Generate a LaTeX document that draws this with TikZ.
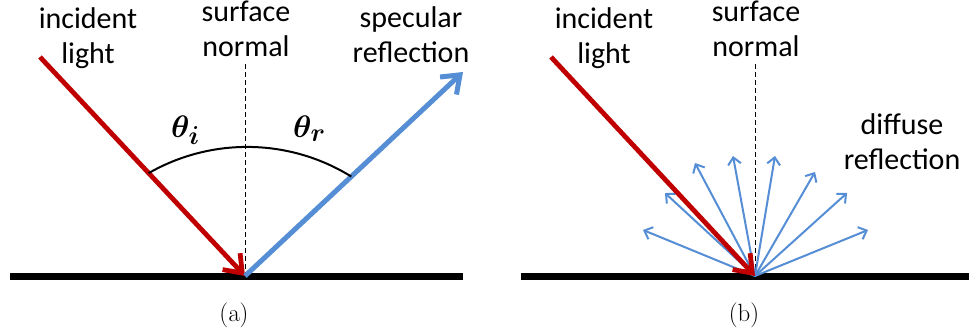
\documentclass[tikz,border=0pt]{standalone}
\usepackage[no-math]{fontspec}
\setmainfont{Carlito}
\usepackage{bm}
\usepackage{graphicx}
\usetikzlibrary{arrows.meta}
\definecolor{redray}{RGB}{192,0,0}
\definecolor{blueray}{RGB}{85,142,213}
\begin{document}
\begin{tikzpicture}[x=1pt,y=-1pt,
  lbl/.style={font=\fontsize{30}{35}\selectfont, align=center, inner sep=0pt, text=black},
  angtext/.style={font=\fontsize{24.88}{30}\selectfont, inner sep=0pt, anchor=base west},
  captext/.style={font=\fontsize{24.88}{28}\selectfont, inner sep=0pt, anchor=base},
  surfline/.style={line width=7pt, black},
  normline/.style={dash pattern=on 5pt off 3pt, line width=0.8pt, black},
  redarrow/.style={redray, line width=4.8pt, -{Straight Barb[length=16pt,width=24pt]}},
  bigblue/.style={blueray, line width=5pt, -{Straight Barb[length=16pt,width=24pt]}},
  smallblue/.style={blueray, line width=2pt, -{Straight Barb[length=7pt,width=13pt]}},
  anglearc/.style={line width=2pt, black}]
\useasboundingbox[fill=white] (0,0) rectangle (969,335);

% ---------- panel (a) ----------
\node[lbl] (inca) at (88,38) {incident\\light};
\node[lbl] (surfa) at (246,29) {surface\\normal};
\node[lbl] (spec) at (411,35) {specular\\reflection};
\node[captext] (capa) at (234,321) {$(\mathrm{a})$};
\node[angtext] (ti) at (171,137) {\scalebox{1.25}{$\bm{\theta_i}$}};
\node[angtext] (tr) at (293,137) {\scalebox{1.25}{$\bm{\theta_r}$}};
\coordinate (La) at (10,276);
\coordinate (Ea) at (463,276);
\coordinate (Pa) at (245,276);
\coordinate (Na) at (245,64);
\coordinate (Ia) at (40,57);
\coordinate (Ra) at (463,72);
\coordinate (Aa) at (148.7,173.1);
\draw[surfline] (La) -- (Ea);
\draw[normline] (Na) -- (Pa);
\draw[redarrow] (Ia) -- (Pa);
\draw[bigblue] (Pa) -- (Ra);
\draw[anglearc] (Aa) arc[start angle=-119.8, end angle=-58.25, radius=198];

% ---------- panel (b) ----------
\node[lbl] (incb) at (604,38) {incident\\light};
\node[lbl] (surfb) at (756,29) {surface\\normal};
\node[lbl] (diff) at (902,142) {diffuse\\reflection};
\node[captext] (capb) at (744,321) {$(\mathrm{b})$};
\coordinate (Lb) at (521,276);
\coordinate (Eb) at (969,276);
\coordinate (Pb) at (755,276);
\coordinate (Nb) at (755,64);
\coordinate (Ib) at (551,57);
\draw[surfline] (Lb) -- (Eb);
\draw[normline] (Nb) -- (Pb);
\foreach \x/\y [count=\k] in {643/230,665/193,695/163,733/156,775/156,815/172,847/193,868/230}{
  \coordinate (D\k) at (\x,\y);
  \draw[smallblue] (Pb) -- (D\k);
}
\draw[redarrow] (Ib) -- (Pb);
\end{tikzpicture}
\end{document}
